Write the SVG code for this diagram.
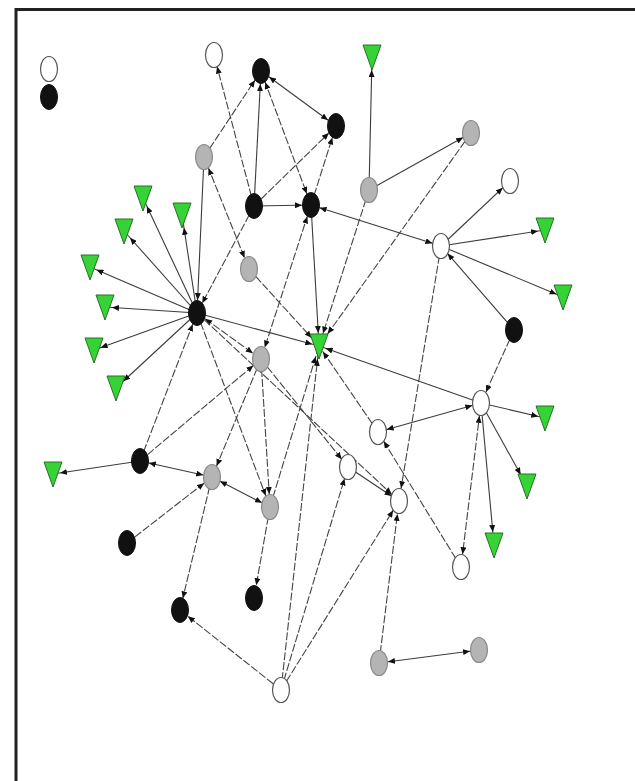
<svg xmlns="http://www.w3.org/2000/svg" xmlns:xlink="http://www.w3.org/1999/xlink" width="635" height="781" viewBox="0 0 635 781">
<style>
.s{stroke:#3c3c3c;stroke-width:1.1;fill:none}
.d{stroke:#444;stroke-width:1.1;fill:none;stroke-dasharray:8 2}
.w{fill:#fff;stroke:#555;stroke-width:1.2}
.b{fill:#111;stroke:#111;stroke-width:1}
.gr{fill:#b4b4b4;stroke:#8a8a8a;stroke-width:1.2}
.g{fill:#36d336;stroke:#2a6e2a;stroke-width:1}
marker path{fill:#111}
</style>
<defs>
<polygon id="tri" points="-9,-12 9,-12 0,13" class="g"/>
<marker id="a7" viewBox="0 0 7 6" markerWidth="7" markerHeight="6" refX="14" refY="3" orient="auto-start-reverse" markerUnits="userSpaceOnUse"><path d="M0,0L7,3L0,6z"/></marker>
<marker id="a9" viewBox="0 0 7 6" markerWidth="7" markerHeight="6" refX="16" refY="3" orient="auto-start-reverse" markerUnits="userSpaceOnUse"><path d="M0,0L7,3L0,6z"/></marker>
<marker id="a10" viewBox="0 0 7 6" markerWidth="7" markerHeight="6" refX="17" refY="3" orient="auto-start-reverse" markerUnits="userSpaceOnUse"><path d="M0,0L7,3L0,6z"/></marker>
<marker id="a11" viewBox="0 0 7 6" markerWidth="7" markerHeight="6" refX="18" refY="3" orient="auto-start-reverse" markerUnits="userSpaceOnUse"><path d="M0,0L7,3L0,6z"/></marker>
<marker id="a12" viewBox="0 0 7 6" markerWidth="7" markerHeight="6" refX="19" refY="3" orient="auto-start-reverse" markerUnits="userSpaceOnUse"><path d="M0,0L7,3L0,6z"/></marker>
<marker id="a13" viewBox="0 0 7 6" markerWidth="7" markerHeight="6" refX="20" refY="3" orient="auto-start-reverse" markerUnits="userSpaceOnUse"><path d="M0,0L7,3L0,6z"/></marker>
<marker id="a15" viewBox="0 0 7 6" markerWidth="7" markerHeight="6" refX="22" refY="3" orient="auto-start-reverse" markerUnits="userSpaceOnUse"><path d="M0,0L7,3L0,6z"/></marker>
</defs>
<rect width="635" height="781" fill="#fff"/>
<path d="M16,781V9.5H635" fill="none" stroke="#222" stroke-width="3"/>
<g id="connectors">
<line x1="254" y1="206" x2="214" y2="55" class="d" marker-end="url(#a12)"/>
<line x1="254" y1="206" x2="261" y2="71" class="s" marker-end="url(#a13)"/>
<line x1="261" y1="71" x2="311" y2="205" class="d" marker-start="url(#a12)" marker-end="url(#a12)"/>
<line x1="261" y1="71" x2="336" y2="126" class="s" marker-start="url(#a10)" marker-end="url(#a10)"/>
<line x1="254" y1="206" x2="336" y2="126" class="d" marker-end="url(#a10)"/>
<line x1="311" y1="205" x2="336" y2="126" class="d" marker-end="url(#a12)"/>
<line x1="204" y1="157" x2="261" y2="71" class="d" marker-end="url(#a11)"/>
<line x1="254" y1="206" x2="311" y2="205" class="s" marker-end="url(#a9)"/>
<line x1="311" y1="205" x2="441" y2="246" class="s" marker-start="url(#a9)" marker-end="url(#a9)"/>
<line x1="311" y1="205" x2="261" y2="359" class="d" marker-start="url(#a12)" marker-end="url(#a12)"/>
<line x1="311" y1="205" x2="319" y2="346" class="s" marker-end="url(#a13)"/>
<line x1="369" y1="190" x2="372" y2="57" class="s" marker-end="url(#a13)"/>
<line x1="369" y1="190" x2="471" y2="133" class="s" marker-end="url(#a9)"/>
<line x1="369" y1="190" x2="319" y2="346" class="d" marker-end="url(#a13)"/>
<line x1="471" y1="133" x2="319" y2="346" class="d" marker-end="url(#a15)"/>
<line x1="441" y1="246" x2="510" y2="181" class="s" marker-end="url(#a10)"/>
<line x1="441" y1="246" x2="545" y2="230" class="s" marker-end="url(#a7)"/>
<line x1="441" y1="246" x2="563" y2="297" class="s" marker-end="url(#a7)"/>
<line x1="514" y1="330" x2="441" y2="246" class="s" marker-end="url(#a10)"/>
<line x1="514" y1="330" x2="481" y2="403" class="d" marker-end="url(#a12)"/>
<line x1="441" y1="246" x2="399" y2="501" class="d" marker-end="url(#a13)"/>
<line x1="481" y1="403" x2="319" y2="346" class="s" marker-end="url(#a7)"/>
<line x1="481" y1="403" x2="378" y2="432" class="s" marker-start="url(#a9)" marker-end="url(#a9)"/>
<line x1="481" y1="403" x2="545" y2="418" class="s" marker-end="url(#a7)"/>
<line x1="481" y1="403" x2="527" y2="486" class="s" marker-end="url(#a13)"/>
<line x1="481" y1="403" x2="494" y2="545" class="s" marker-end="url(#a13)"/>
<line x1="481" y1="403" x2="461" y2="567" class="d" marker-start="url(#a13)" marker-end="url(#a13)"/>
<line x1="461" y1="567" x2="378" y2="432" class="d" marker-end="url(#a11)"/>
<line x1="378" y1="432" x2="319" y2="346" class="d" marker-end="url(#a7)"/>
<line x1="197" y1="313" x2="143" y2="198" class="s" marker-end="url(#a9)"/>
<line x1="197" y1="313" x2="182" y2="215" class="s" marker-end="url(#a13)"/>
<line x1="197" y1="313" x2="124" y2="231" class="s" marker-end="url(#a9)"/>
<line x1="197" y1="313" x2="90" y2="267" class="s" marker-end="url(#a7)"/>
<line x1="197" y1="313" x2="105" y2="307" class="s" marker-end="url(#a7)"/>
<line x1="197" y1="313" x2="94" y2="350" class="s" marker-end="url(#a7)"/>
<line x1="197" y1="313" x2="116" y2="388" class="s" marker-end="url(#a10)"/>
<line x1="204" y1="157" x2="197" y2="313" class="s" marker-end="url(#a13)"/>
<line x1="254" y1="206" x2="197" y2="313" class="d" marker-end="url(#a11)"/>
<line x1="197" y1="313" x2="319" y2="346" class="s" marker-end="url(#a7)"/>
<line x1="197" y1="313" x2="261" y2="359" class="d" marker-start="url(#a10)" marker-end="url(#a10)"/>
<line x1="140" y1="461" x2="197" y2="313" class="d" marker-end="url(#a12)"/>
<line x1="197" y1="313" x2="270" y2="507" class="d" marker-end="url(#a12)"/>
<line x1="197" y1="313" x2="399" y2="501" class="d" marker-end="url(#a10)"/>
<line x1="204" y1="157" x2="249" y2="269" class="d" marker-start="url(#a12)" marker-end="url(#a12)"/>
<line x1="249" y1="269" x2="319" y2="346" class="d" marker-end="url(#a11)"/>
<line x1="261" y1="359" x2="348" y2="467" class="d" marker-end="url(#a10)"/>
<line x1="348" y1="467" x2="399" y2="501" class="s" marker-end="url(#a9)"/>
<line x1="140" y1="461" x2="261" y2="359" class="d" marker-end="url(#a10)"/>
<line x1="140" y1="461" x2="53" y2="474" class="s" marker-end="url(#a7)"/>
<line x1="140" y1="461" x2="212" y2="477" class="s" marker-start="url(#a9)" marker-end="url(#a9)"/>
<line x1="261" y1="359" x2="212" y2="477" class="d" marker-end="url(#a12)"/>
<line x1="261" y1="359" x2="270" y2="507" class="d" marker-end="url(#a13)"/>
<line x1="212" y1="477" x2="270" y2="507" class="s" marker-start="url(#a9)" marker-end="url(#a9)"/>
<line x1="127" y1="543" x2="212" y2="477" class="d" marker-end="url(#a10)"/>
<line x1="212" y1="477" x2="180" y2="610" class="d" marker-end="url(#a12)"/>
<line x1="270" y1="507" x2="254" y2="598" class="d" marker-end="url(#a13)"/>
<line x1="270" y1="507" x2="319" y2="346" class="d" marker-end="url(#a11)"/>
<line x1="281" y1="690" x2="180" y2="610" class="d" marker-end="url(#a10)"/>
<line x1="281" y1="690" x2="319" y2="346" class="d" marker-end="url(#a13)"/>
<line x1="281" y1="690" x2="348" y2="467" class="d" marker-end="url(#a12)"/>
<line x1="281" y1="690" x2="399" y2="501" class="d" marker-end="url(#a11)"/>
<line x1="379" y1="663" x2="399" y2="501" class="d" marker-end="url(#a13)"/>
<line x1="379" y1="663" x2="479" y2="650" class="s" marker-start="url(#a9)" marker-end="url(#a9)"/>
</g>
<g id="legend-white"><ellipse cx="49" cy="69" rx="8.5" ry="12.5" class="w"/></g>
<g id="legend-black"><ellipse cx="49" cy="97" rx="8.5" ry="12.5" class="b"/></g>
<g id="n1"><ellipse cx="214" cy="55" rx="8.5" ry="12.5" class="w"/></g>
<g id="n2"><ellipse cx="261" cy="71" rx="8.5" ry="12.5" class="b"/></g>
<g id="n3"><ellipse cx="336" cy="126" rx="8.5" ry="12.5" class="b"/></g>
<g id="n4"><ellipse cx="204" cy="157" rx="8.5" ry="12.5" class="gr"/></g>
<g id="n5"><ellipse cx="254" cy="206" rx="8.5" ry="12.5" class="b"/></g>
<g id="n6"><ellipse cx="311" cy="205" rx="8.5" ry="12.5" class="b"/></g>
<g id="n7"><use href="#tri" x="372" y="57"/></g>
<g id="n8"><ellipse cx="471" cy="133" rx="8.5" ry="12.5" class="gr"/></g>
<g id="n9"><ellipse cx="369" cy="190" rx="8.5" ry="12.5" class="gr"/></g>
<g id="n10"><ellipse cx="510" cy="181" rx="8.5" ry="12.5" class="w"/></g>
<g id="n11"><ellipse cx="441" cy="246" rx="8.5" ry="12.5" class="w"/></g>
<g id="n12"><use href="#tri" x="545" y="230"/></g>
<g id="n13"><use href="#tri" x="563" y="297"/></g>
<g id="n14"><ellipse cx="514" cy="330" rx="8.5" ry="12.5" class="b"/></g>
<g id="n15"><use href="#tri" x="143" y="198"/></g>
<g id="n16"><use href="#tri" x="182" y="215"/></g>
<g id="n17"><use href="#tri" x="124" y="231"/></g>
<g id="n18"><use href="#tri" x="90" y="267"/></g>
<g id="n19"><use href="#tri" x="105" y="307"/></g>
<g id="n20"><use href="#tri" x="94" y="350"/></g>
<g id="n21"><use href="#tri" x="116" y="388"/></g>
<g id="n22"><ellipse cx="197" cy="313" rx="8.5" ry="12.5" class="b"/></g>
<g id="n23"><ellipse cx="249" cy="269" rx="8.5" ry="12.5" class="gr"/></g>
<g id="n24"><use href="#tri" x="319" y="346"/></g>
<g id="n25"><ellipse cx="261" cy="359" rx="8.5" ry="12.5" class="gr"/></g>
<g id="n26"><ellipse cx="481" cy="403" rx="8.5" ry="12.5" class="w"/></g>
<g id="n27"><use href="#tri" x="545" y="418"/></g>
<g id="n28"><use href="#tri" x="527" y="486"/></g>
<g id="n29"><use href="#tri" x="494" y="545"/></g>
<g id="n30"><ellipse cx="378" cy="432" rx="8.5" ry="12.5" class="w"/></g>
<g id="n31"><ellipse cx="348" cy="467" rx="8.5" ry="12.5" class="w"/></g>
<g id="n32"><ellipse cx="399" cy="501" rx="8.5" ry="12.5" class="w"/></g>
<g id="n33"><ellipse cx="461" cy="567" rx="8.5" ry="12.5" class="w"/></g>
<g id="n34"><ellipse cx="140" cy="461" rx="8.5" ry="12.5" class="b"/></g>
<g id="n35"><use href="#tri" x="53" y="474"/></g>
<g id="n36"><ellipse cx="212" cy="477" rx="8.5" ry="12.5" class="gr"/></g>
<g id="n37"><ellipse cx="270" cy="507" rx="8.5" ry="12.5" class="gr"/></g>
<g id="n38"><ellipse cx="127" cy="543" rx="8.5" ry="12.5" class="b"/></g>
<g id="n39"><ellipse cx="180" cy="610" rx="8.5" ry="12.5" class="b"/></g>
<g id="n40"><ellipse cx="254" cy="598" rx="8.5" ry="12.5" class="b"/></g>
<g id="n41"><ellipse cx="281" cy="690" rx="8.5" ry="12.5" class="w"/></g>
<g id="n42"><ellipse cx="379" cy="663" rx="8.5" ry="12.5" class="gr"/></g>
<g id="n43"><ellipse cx="479" cy="650" rx="8.5" ry="12.5" class="gr"/></g>
</svg>
